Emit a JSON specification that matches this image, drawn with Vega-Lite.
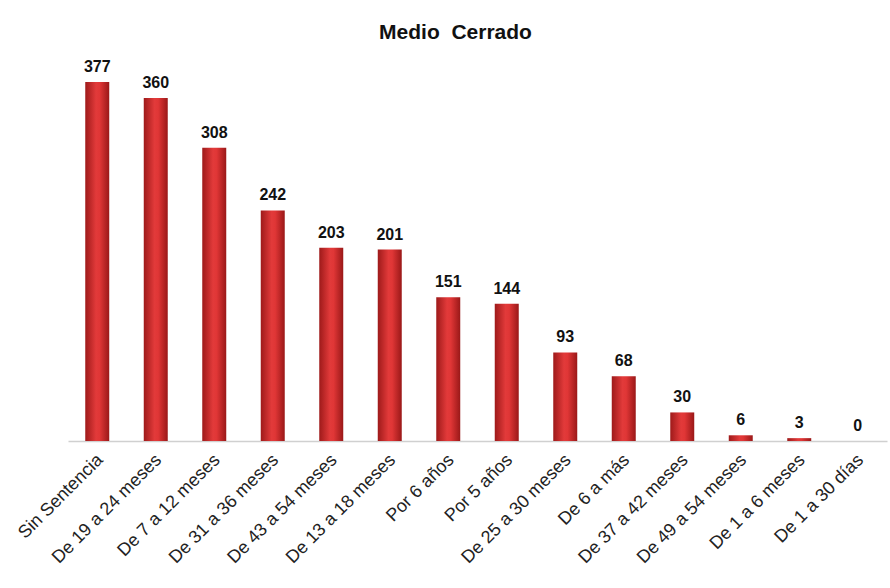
{
  "$schema": "https://vega.github.io/schema/vega-lite/v6.json",
  "width": 819,
  "height": 381,
  "autosize": {"type": "none"},
  "padding": {"left": 68, "top": 60, "right": 3, "bottom": 147},
  "background": "white",
  "title": {"text": "Medio \u00a0Cerrado", "font": "Liberation Sans", "fontSize": 21, "fontWeight": "bold", "color": "#111", "anchor": "middle", "dx": -22, "offset": 16},
  "config": {"view": {"stroke": null}},
  "data": {"values": [
    {"cat": "Sin Sentencia", "v": 377},
    {"cat": "De 19 a 24 meses", "v": 360},
    {"cat": "De 7 a 12 meses", "v": 308},
    {"cat": "De 31 a 36 meses", "v": 242},
    {"cat": "De 43 a 54 meses", "v": 203},
    {"cat": "De 13 a 18 meses", "v": 201},
    {"cat": "Por 6 años", "v": 151},
    {"cat": "Por 5 años", "v": 144},
    {"cat": "De 25 a 30 meses", "v": 93},
    {"cat": "De 6 a más", "v": 68},
    {"cat": "De 37 a 42 meses", "v": 30},
    {"cat": "De 49 a 54 meses", "v": 6},
    {"cat": "De 1 a 6 meses", "v": 3},
    {"cat": "De 1 a 30 días", "v": 0}
  ]},
  "encoding": {
    "x": {"field": "cat", "type": "nominal", "sort": null,
      "scale": {"paddingInner": 0.59, "paddingOuter": 0.295},
      "axis": {"title": null, "labelAngle": -45, "labelAlign": "right", "labelBaseline": "middle", "labelPadding": 16, "labelOffset": 3, "ticks": false, "domainColor": "#d0d0d0", "domainWidth": 1.5, "labelFont": "Liberation Sans", "labelFontSize": 18, "labelColor": "#222", "labelLimit": 300}},
    "y": {"field": "v", "type": "quantitative", "scale": {"domain": [0, 400], "nice": false}, "axis": null}
  },
  "layer": [
    {"mark": {"type": "bar", "color": {"gradient": "linear", "x1": 0, "x2": 1, "y1": 0, "y2": 0, "stops": [{"offset": 0, "color": "#9e1a1a"}, {"offset": 0.45, "color": "#e23a3a"}, {"offset": 0.6, "color": "#e03636"}, {"offset": 1, "color": "#9a1818"}]}}},
    {"mark": {"type": "text", "baseline": "bottom", "dy": -7, "font": "Liberation Sans", "fontSize": 16, "fontWeight": "bold", "color": "#111"},
     "encoding": {"text": {"field": "v", "type": "quantitative"}}}
  ]
}
